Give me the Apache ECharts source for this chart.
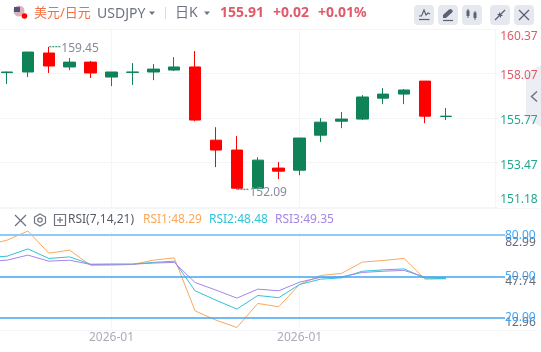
<!DOCTYPE html>
<html>
<head>
<meta charset="utf-8">
<style>html,body{margin:0;padding:0;background:#fff}#echarts{width:541px;height:352px}</style>
<script src="https://cdn.jsdelivr.net/npm/echarts@6/dist/echarts.min.js"></script>
</head>
<body>
<div id="echarts"></div>
<script>
// first entry sits off the left edge, it only gives the rsi lines their start
// the last two dates have no candle yet, they are the empty room on the right
var dates = ['2025-12-31','2026-01-01','2026-01-02','2026-01-05','2026-01-06','2026-01-07','2026-01-08','2026-01-09','2026-01-12','2026-01-13','2026-01-14','2026-01-15','2026-01-16','2026-01-19','2026-01-20','2026-01-21','2026-01-22','2026-01-23','2026-01-26','2026-01-27','2026-01-28','2026-01-29','2026-01-30','2026-02-02','2026-02-03'];
var open  = [157.90,158.12,158.15,159.13,158.41,158.66,157.89,158.13,158.15,158.25,158.41,154.63,154.12,152.15,153.19,153.08,154.89,155.61,155.72,156.80,157.01,157.68,155.85];
var close = [158.10,158.15,159.18,158.46,158.66,158.10,158.15,158.15,158.30,158.41,155.67,154.12,152.15,153.60,153.03,154.74,155.56,155.72,156.86,157.01,157.22,155.87,155.87];
var low   = [157.70,157.53,157.89,158.10,158.25,157.84,157.42,157.48,157.73,158.20,155.61,153.24,152.09,152.15,152.62,152.82,154.53,155.25,155.67,156.49,156.49,155.51,155.67];
var high  = [158.30,158.17,159.18,159.45,158.87,158.72,158.15,158.61,158.56,158.92,159.23,155.30,154.84,153.75,153.50,154.74,155.77,156.08,156.96,157.32,157.27,157.68,156.29];
var rsi1 = [72.7,76.3,82.99,66.9,69.1,58.0,58.2,58.7,61.8,63.5,25.0,18.3,12.96,30.4,28.0,44.2,50.7,52.2,60.4,61.6,63.1,48.0,48.29];
var rsi2 = [63.6,64.7,70.0,63.1,64.2,58.9,58.9,58.9,60.2,61.1,39.6,32.8,26.3,36.2,34.6,44.2,48.0,49.0,53.8,54.8,55.5,48.8,48.48];
var rsi3 = [61.1,61.8,65.5,61.1,61.8,58.7,58.9,58.9,59.7,60.2,45.6,40.1,34.3,40.8,39.6,45.9,49.3,49.7,52.9,53.8,54.4,49.5,49.35];
var priceTicks = [151.18,153.47,155.77,158.07,160.37];
var rsiTicks = [12.96,47.74,82.99];
var rsiLevels = [80,50,20];
var labelDates = ['2026-01-08','2026-01-21'];

var RED = '#ff0000', GREEN = '#0f8258', TXTRED = '#e05a69', TXTGREEN = '#1fa98c', GREY = '#6d7383', LINE = '#f4f5f8';
var FONT = '"Noto Sans","Noto Sans CJK SC",sans-serif';
var BTN = '#e6e8f0', ICON = '#5c6172';

function txt(x, y, s, fill, size, weight) {
    return {type:'text', x:x, y:y, style:{text:s, fill:fill, fontSize:size||14, fontWeight:weight||'normal', fontFamily:FONT, verticalAlign:'middle'}};
}
function ln(x1, y1, x2, y2, col, w) {
    return {type:'line', shape:{x1:x1,y1:y1,x2:x2,y2:y2}, style:{stroke:col, lineWidth:w||1}};
}
function btn(x) {
    return {type:'rect', shape:{x:x,y:5,width:20,height:20,r:4}, style:{fill:BTN}};
}
function poly(points, col) {
    return {type:'polygon', shape:{points:points}, style:{fill:col||ICON}};
}
var last = rsi1.length - 1;
var graphics = [
    // flag
    {type:'circle', shape:{cx:19,cy:11,r:5.5}, style:{fill:'#d9b3bd'}},
    {type:'rect', shape:{x:14,y:7,width:6,height:5}, style:{fill:'#56507f'}},
    {type:'circle', shape:{cx:24.5,cy:16,r:2.8}, style:{fill:'#ff0000'}},
    txt(34,13,'美元/日元','#f2703f',13),
    txt(97,14,'USDJPY',GREY,14),
    poly([[149,11.5],[155,11.5],[152,15]],GREY),
    ln(165.5,7,165.5,19,'#d8dbe3'),
    txt(175,13,'日K',GREY,14),
    poly([[204,11.5],[210,11.5],[207,15]],GREY),
    txt(220,13,'155.91',TXTRED,14,'bold'),
    txt(273,13,'+0.02',TXTRED,14,'bold'),
    txt(318,13,'+0.01%',TXTRED,14,'bold'),
    btn(414),btn(438),btn(462),btn(490),btn(514),
    {type:'polyline', shape:{points:[[419,16],[421.5,16],[424,10],[426,15],[428,13],[430,14]]}, style:{stroke:ICON,lineWidth:1.2,fill:'none'}},
    ln(419,19.5,429.5,19.5,ICON,1.2),
    poly([[443,18],[443,15],[449,9.5],[451,9],[453,11],[452,12.5],[446,18]]),
    ln(443,20.5,453,20.5,ICON,1.2),
    ln(468,9,468,18,ICON,1),poly([[466.5,10.5],[469.5,10.5],[469.5,16],[466.5,16]]),
    ln(475,11,475,20,ICON,1),poly([[473.5,12.5],[476.5,12.5],[476.5,18],[473.5,18]]),
    ln(495,20,499,16,ICON,1.2),ln(501,14,505,10,ICON,1.2),
    poly([[497,14],[501,14],[501,18]]),
    poly([[499,16],[499,12],[503,16]]),
    ln(519,10,529,20,ICON,1.2),ln(529,10,519,20,ICON,1.2),
    // side handle
    {type:'polygon', z:-1, shape:{points:[[541,65],[526,74],[526,118],[541,127]]}, style:{fill:'#eceef4'}},
    {type:'polyline', shape:{points:[[537,91.5],[531.5,96.5],[537,101.5]]}, style:{stroke:'#6d7383',lineWidth:1.5,fill:'none'}},
    // frame
    ln(495.5,29,495.5,208,LINE),
    ln(0,208.5,541,208.5,LINE),
    ln(0,330.5,537,330.5,LINE),
    // rsi header
    ln(15,215,26,226,GREY,1.2),ln(26,215,15,226,GREY,1.2),
    {type:'polygon', shape:{points:[[40,214],[45.5,217],[45.5,223],[40,226],[34.5,223],[34.5,217]]}, style:{fill:'none',stroke:GREY,lineWidth:1.2}},
    {type:'circle', shape:{cx:40,cy:220,r:2.2}, style:{fill:'none',stroke:GREY,lineWidth:1.2}},
    {type:'rect', shape:{x:54.5,y:214.5,width:11,height:11}, style:{fill:'none',stroke:GREY,lineWidth:1.2}},
    ln(57,220,63,220,GREY,1.2),ln(60,217,60,223,GREY,1.2),
    txt(68,220,'RSI(7,14,21)','#555a66',12),
    txt(143,220,'RSI1:'+rsi1[last].toFixed(2),'#f9a85c',12),
    txt(209,220,'RSI2:'+rsi2[last].toFixed(2),'#2fc3d9',12),
    txt(275,220,'RSI3:'+rsi3[last].toFixed(2),'#a586e6',12)
];

var ohlc = open.map(function (d, i) { return [open[i], close[i], low[i], high[i]]; });
var DOTS = 'path://M0 0h2v1h-2zM3 0h2v1h-2zM6 0h2v1h-2zM9 0h2v1h-2z';
function extreme(i, price, labelDy) {
    return {coord:[dates[i], price], value:price.toFixed(2),
        symbol:DOTS, symbolSize:[11,1], symbolOffset:[6,0],
        label:{show:true, position:'right', offset:[1,labelDy], distance:0, color:'#868b9b', fontSize:12, fontFamily:FONT, formatter:'{c}'}};
}
function rsiLine(data, col) {
    return {type:'line', xAxisIndex:1, yAxisIndex:1, data:data, symbol:'none', smooth:false,
        lineStyle:{color:col, width:1}};
}
function priceLabel(v) {
    var c = v > 157 ? 'r' : 'g';
    if (v === 160.37) return '{' + c + 'Top|' + v.toFixed(2) + '}';
    if (v === 151.18) return '{' + c + 'Bot|' + v.toFixed(2) + '}';
    return '{' + c + '|' + v.toFixed(2) + '}';
}
function rsiLabel(v) {
    if (v === 82.99) return '{top|' + v.toFixed(2) + '}';
    if (v === 12.96) return '{bot|' + v.toFixed(2) + '}';
    return '{mid|' + v.toFixed(2) + '}';
}
function isLabelDate(i, v) { return labelDates.indexOf(v) >= 0; }

var myChart = echarts.init(document.getElementById('echarts'));
var option = {
    animation: false,
    textStyle: {fontFamily: FONT},
    graphic: {elements: graphics},
    grid: [
        {left:-24.35, width:522.5, top:29, height:178, outerBoundsMode:'none'},
        {left:-24.35, width:522.5, top:231, height:96.5, outerBoundsMode:'none'},
        {left:0, width:505, top:231, height:96.5, outerBoundsMode:'none'}
    ],
    xAxis: [
        {type:'category', gridIndex:0, data:dates, axisLine:{show:false}, axisTick:{show:false}, axisLabel:{show:false},
            splitLine:{show:true, alignWithLabel:true, interval:isLabelDate, lineStyle:{color:LINE}}},
        {type:'category', gridIndex:1, data:dates, axisLine:{show:false}, axisTick:{show:false},
            axisLabel:{interval:isLabelDate, margin:4, color:'#a9adb8', fontSize:12, fontFamily:FONT, formatter:function (v) { return v.slice(0,7); }},
            splitLine:{show:true, alignWithLabel:true, interval:isLabelDate, lineStyle:{color:LINE}}},
        {type:'value', gridIndex:2, min:0, max:1, show:false}
    ],
    yAxis: [
        {type:'value', gridIndex:0, position:'right', min:151.18, max:160.37, axisLine:{show:false},
            axisTick:{show:false, customValues:priceTicks},
            axisLabel:{customValues:priceTicks, margin:2, formatter:priceLabel, fontSize:12, fontFamily:FONT,
                rich:{
                    r:{color:TXTRED, fontSize:12, padding:[5,0,0,0]},
                    g:{color:TXTGREEN, fontSize:12, padding:[5,0,0,0]},
                    rTop:{color:TXTRED, fontSize:12, padding:[16,0,0,0]},
                    gBot:{color:TXTGREEN, fontSize:12, padding:[0,0,14,0]}
                }},
            splitLine:{show:true, lineStyle:{color:LINE}}},
        {type:'value', gridIndex:1, position:'right', min:12.96, max:82.99, axisLine:{show:false},
            axisTick:{show:false, customValues:rsiTicks},
            splitLine:{show:false},
            axisLabel:{customValues:rsiTicks, margin:7, formatter:rsiLabel, fontSize:12, fontFamily:FONT,
                rich:{
                    top:{color:'#666c7a', fontSize:12, padding:[24,0,0,0]},
                    mid:{color:'#666c7a', fontSize:12, padding:[5,0,0,0]},
                    bot:{color:'#666c7a', fontSize:12, padding:[0,0,10,0]}
                }}},
        {type:'value', gridIndex:2, min:12.96, max:82.99, show:false}
    ],
    series: [
        {type:'candlestick', xAxisIndex:0, yAxisIndex:0, data:ohlc, barWidth:12,
            itemStyle:{color:GREEN, color0:RED, borderColor:GREEN, borderColor0:RED, borderWidth:1},
            markPoint:{silent:true, data:[extreme(3,high[3],2), extreme(12,low[12],3)]}},
        rsiLine(rsi1,'#f9a85c'),
        rsiLine(rsi2,'#2fc3d9'),
        rsiLine(rsi3,'#a586e6'),
        {type:'line', xAxisIndex:2, yAxisIndex:2, data:[], z:1,
            markLine:{silent:true, symbol:'none', animation:false,
                label:{position:'end', distance:0, color:'#42a5f5', fontSize:12, fontFamily:FONT, formatter:function (p) { return p.value.toFixed(2); }},
                data:rsiLevels.map(function (v) {
                    return {yAxis:v, lineStyle:{type:'solid', color: v === 80 ? '#90caf9' : '#42a5f5', width: v === 80 ? 2 : 1.5}};
                })}}
    ]
};
myChart.setOption(option);
</script>
</body>
</html>
